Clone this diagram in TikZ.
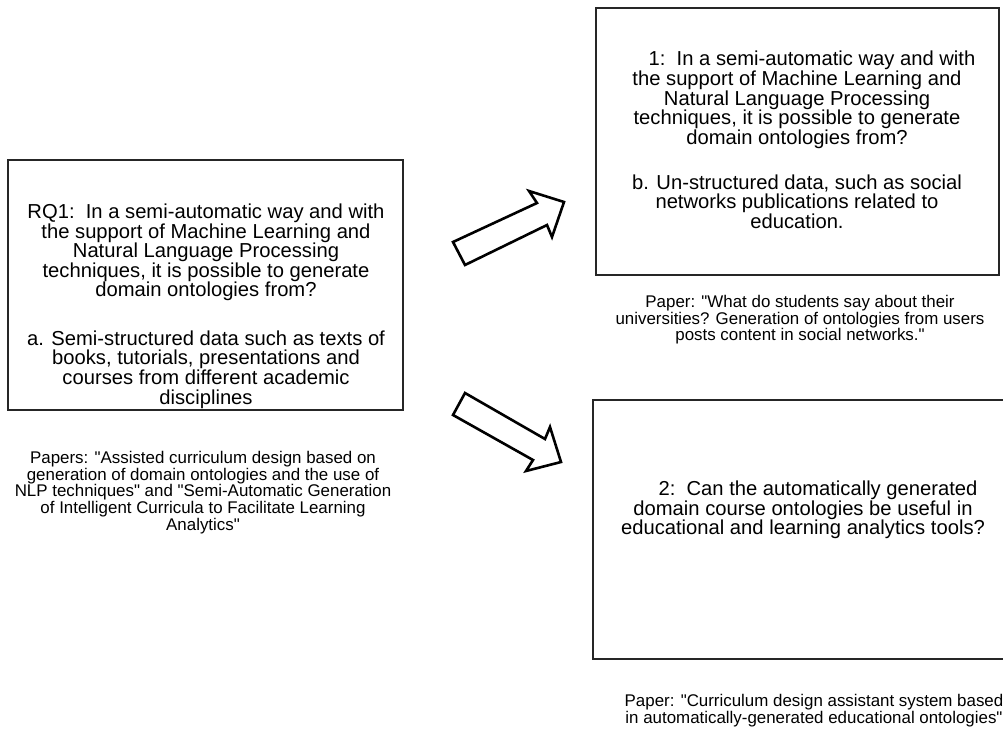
\documentclass[tikz,border=0pt]{standalone}
\usepackage{fontspec}
\newfontfamily\arialfont{Liberation Sans}
\begin{document}
\begin{tikzpicture}[x=1pt,y=-1pt,
  box/.style={draw=black!85, line width=1.3pt, inner sep=0},
  qtext/.style={align=center, font=\arialfont\fontsize{20.2}{19.6}\selectfont, inner sep=0},
  captext/.style={align=center, font=\arialfont\fontsize{16.9}{13.1}\selectfont, inner sep=0},
  blockarrow/.style={draw=black, line width=2.6pt, fill=white, line join=miter}]
\useasboundingbox (0,0) rectangle (1003,728);
% boxes
\node[box, minimum width=395pt, minimum height=250pt] (b1) at (205.5,285) {};
\node[box, minimum width=403pt, minimum height=267pt] (b2) at (797.5,141.5) {};
\node[box, minimum width=420pt, minimum height=259pt] (b3) at (803,529.5) {};
% box texts
\node[qtext] (t1) at (206,306) {RQ1:\ \ In a semi-automatic way and with\\
the support of Machine Learning and\\
Natural Language Processing\\
techniques, it is possible to generate\\
domain ontologies from?\\[28.8pt]
a. Semi-structured data such as texts of\\
books, tutorials, presentations and\\
courses from different academic\\
disciplines};
\node[qtext] (t2) at (797,140) {\hspace*{30pt}1:\ \ In a semi-automatic way and with\\
the support of Machine Learning and\\
Natural Language Processing\\
techniques, it is possible to generate\\
domain ontologies from?\\[25.5pt]
b. Un-structured data, such as social\\
networks publications related to\\
education.};
\node[qtext] (t3) at (803,510) {\hspace*{30pt}2:\ \ Can the automatically generated\\
domain course ontologies be useful in\\
educational and learning analytics tools?};
% captions
\node[captext] (c1) at (203,492.5) {Papers: "Assisted curriculum design based on\\
generation of domain ontologies and the use of\\
NLP techniques" and "Semi-Automatic Generation\\
of Intelligent Curricula to Facilitate Learning\\
Analytics"};
\node[captext] (c2) at (800,319.7) {Paper: "What do students say about their\\
universities? Generation of ontologies from users\\
posts content in social networks."};
\node[captext] (c3) at (814,710.3) {Paper: "Curriculum design assistant system based\\
in automatically-generated educational ontologies"};
% block arrows
\draw[blockarrow] (465,265) -- (453,242) -- (537,203) -- (529,191) -- (564,202) -- (552,237) -- (547,225) -- cycle;
\draw[blockarrow] (465,393) -- (453,415) -- (533,460) -- (526,471) -- (561,462) -- (550,427) -- (545,439) -- cycle;
\end{tikzpicture}
\end{document}
